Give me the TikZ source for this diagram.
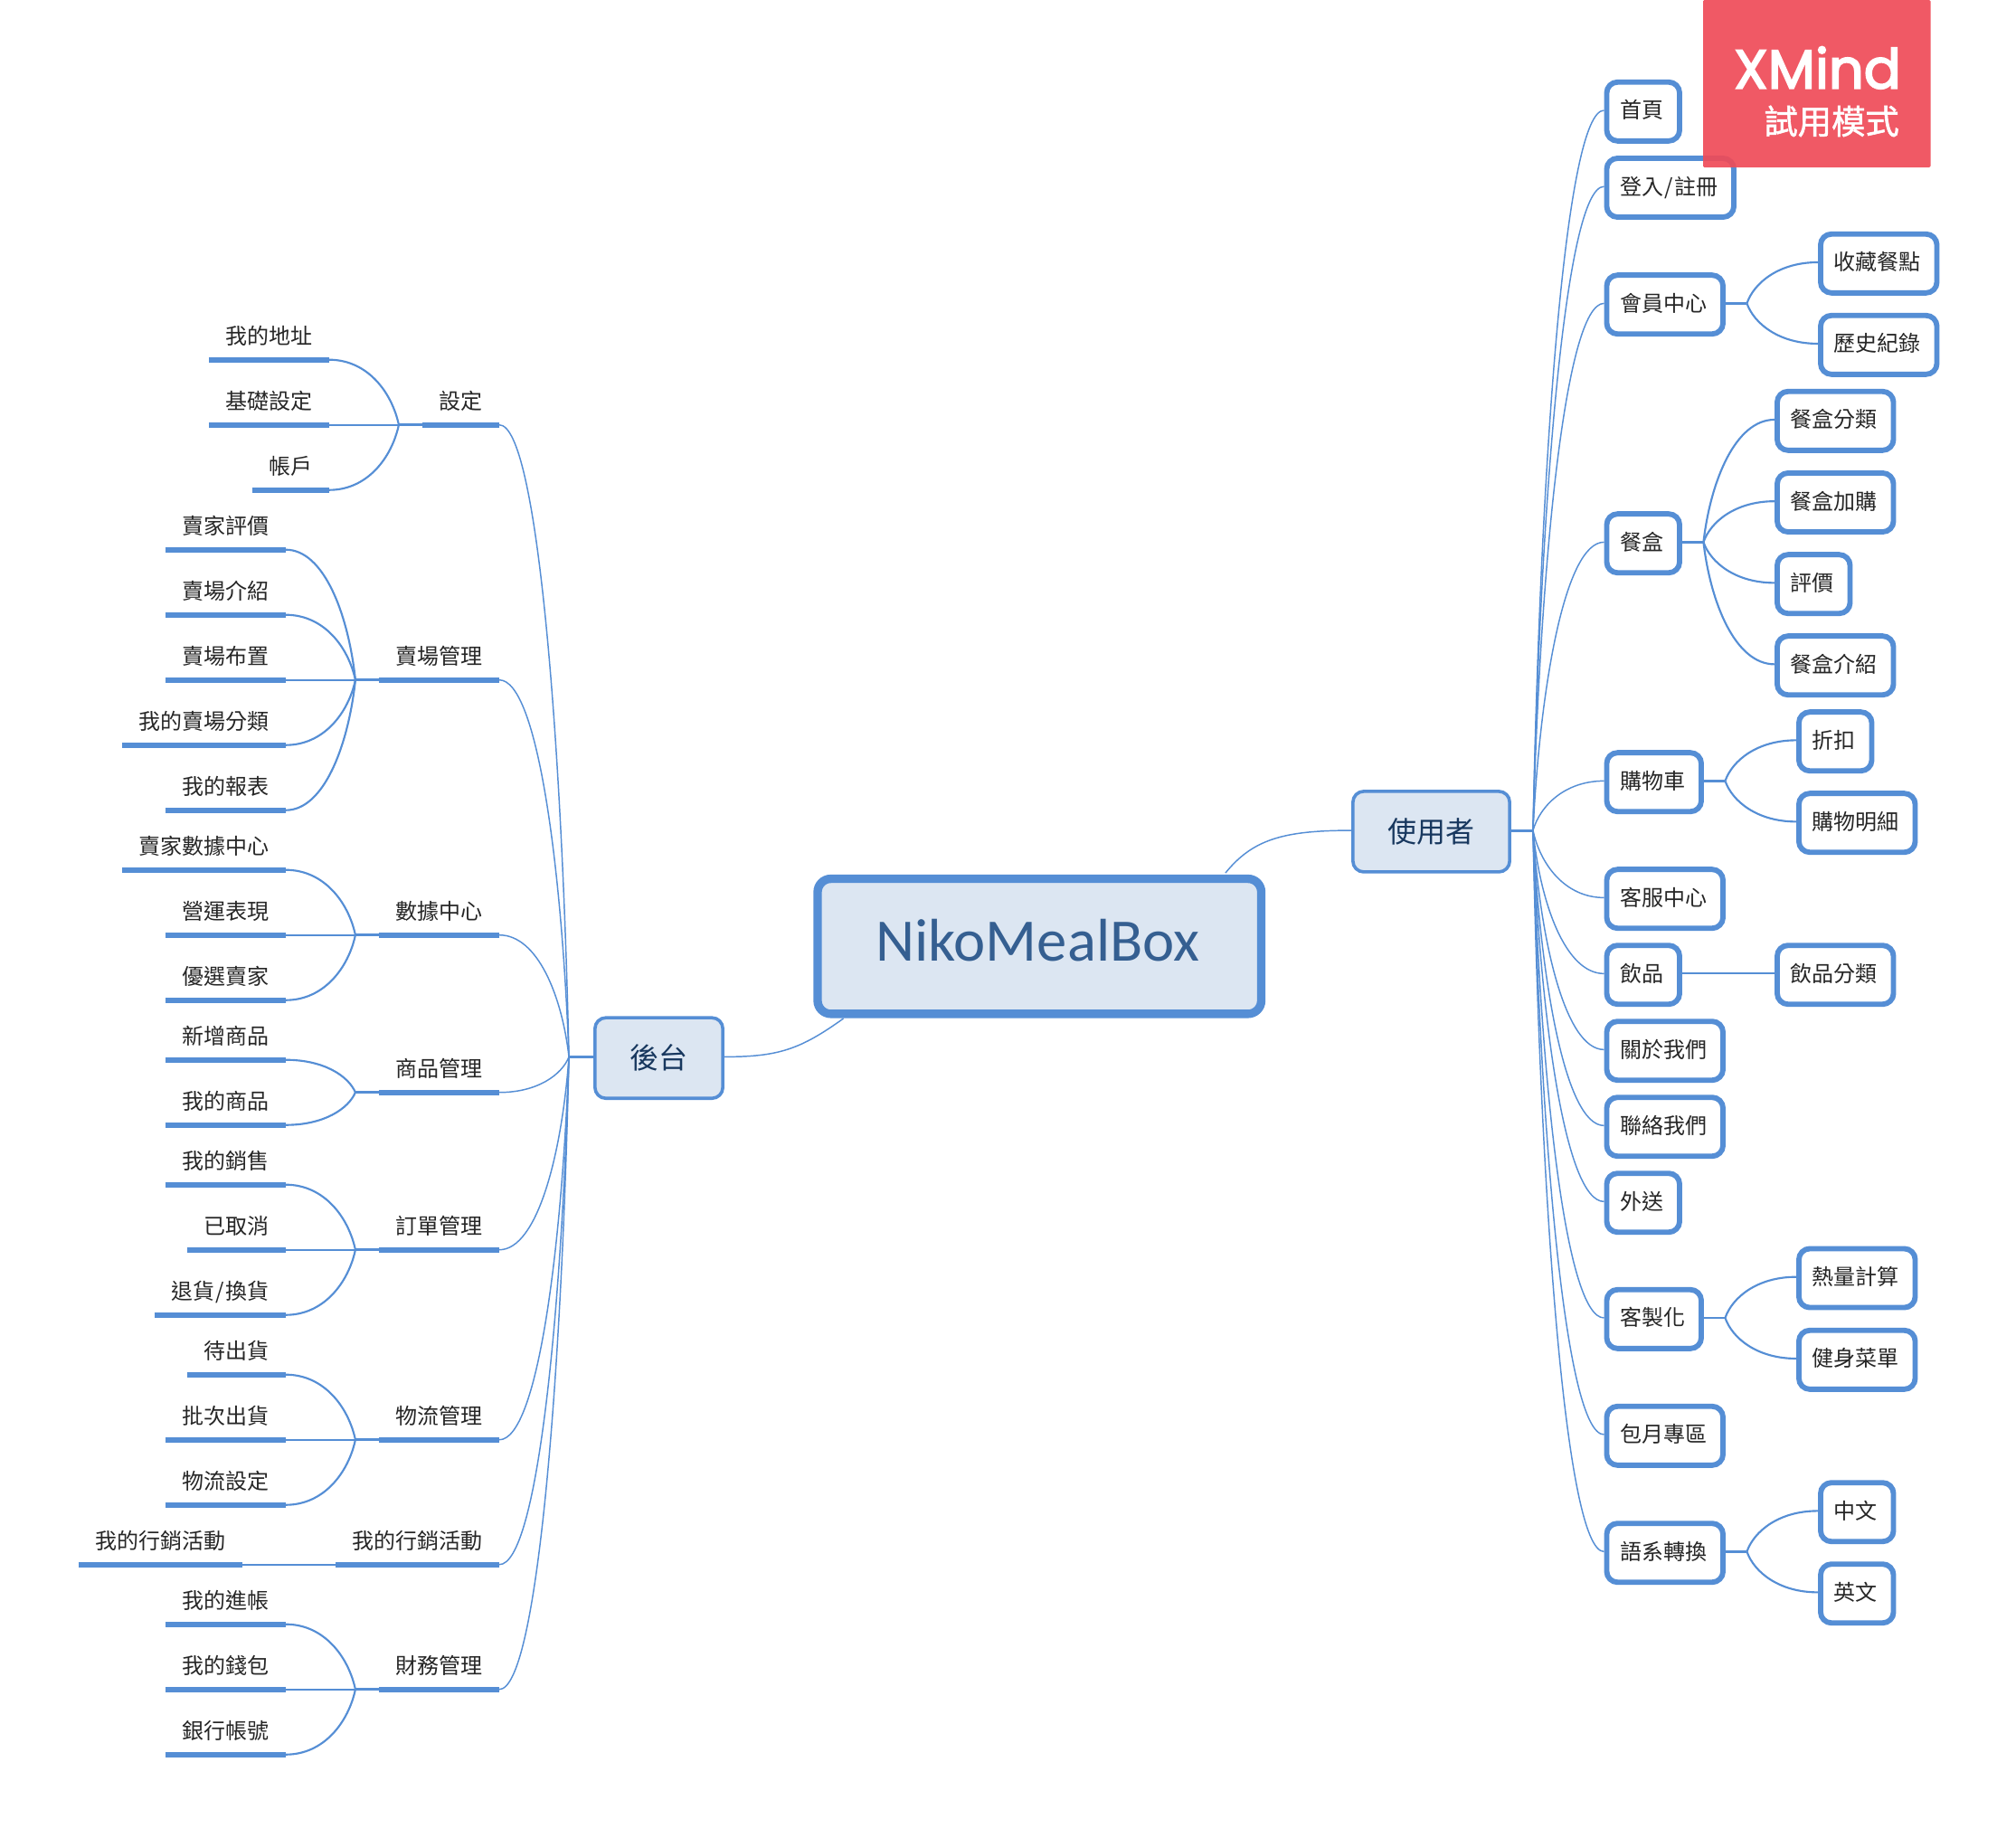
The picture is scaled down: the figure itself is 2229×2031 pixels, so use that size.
\documentclass[tikz,border=0pt]{standalone}
\usepackage{fontspec}
\setmainfont{Noto Sans CJK TC}
\newfontfamily\latf{Carlito}
\newfontfamily\xmf{Poppins}[FakeBold=3]
\newfontfamily\zhb{Noto Sans CJK TC}[FakeBold=1.5]
\usetikzlibrary{calc}
\definecolor{lineblue}{HTML}{558ED5}
\definecolor{fillblue}{HTML}{DCE6F2}
\definecolor{textdark}{HTML}{17375E}
\definecolor{textmain}{HTML}{355F91}
\definecolor{textleaf}{HTML}{262626}
\definecolor{xmred}{HTML}{EF4B58}
\tikzset{
  x=0.75pt,y=-0.75pt,
  topic/.style={draw=lineblue,line width=4.4pt,rounded corners=9pt,fill=white,text=textleaf,
    font=\fontsize{18}{22}\selectfont,inner sep=0pt,text height=15.8pt,text depth=2.2pt,
    minimum height=48.8pt,anchor=west},
  leaf/.style={text=textleaf,font=\fontsize{18}{22}\selectfont,inner xsep=13.9pt,inner ysep=0pt,outer sep=0pt,
    text height=15.8pt,text depth=2.2pt,minimum height=40.5pt,anchor=south east},
  ul/.style={draw=lineblue,line width=4.8pt},
  hubnode/.style={draw=lineblue,line width=2.7pt,rounded corners=9pt,fill=fillblue,text=textdark,
    font=\fontsize{24}{28}\selectfont,inner sep=0pt},
  mainnode/.style={draw=lineblue,line width=7pt,rounded corners=11pt,fill=fillblue,text=textmain,
    font=\latf\fontsize{50}{56}\selectfont,inner sep=0pt,text height=33.7pt,text depth=10pt},
  hubline/.style={draw=lineblue,line width=1.1pt},
  kidline/.style={draw=lineblue,line width=1.6pt},
  stub/.style={draw=lineblue,line width=2.2pt},
}
\newcommand\boxn[5]{\node[topic,minimum width={(#5-5.9)*0.75pt}] (#1) at (#3,#4) {\raisebox{1.1pt}{#2\kern2pt}};}
\newcommand\leafn[4]{\node[leaf] (#1) at (#3,#4) {\raisebox{-0.7pt}{#2}};\draw[ul] (#1.south west) -- (#1.south east);}
\newcommand\conn[3][hubline]{\draw[#1] let \p1=(#2),\p2=(#3) in (\p1) .. controls ({\x1+0.1*(\x2-\x1)},{\y1+0.5*(\y2-\y1)}) and ({\x1+0.45*(\x2-\x1)},\y2) .. (\p2);}
\newcommand\jct[2]{\coordinate (#1) at ([xshift=17.6pt,yshift=1pt]#2.east);\draw[stub] ([yshift=1pt]#2.east) -- (#1);}
\newcommand\kid[2]{\conn[kidline]{#1}{[yshift=1pt]#2.west}}
\newcommand\topk[1]{\conn[hubline]{jr}{[yshift=1pt]#1.west}}
\newcommand\lk[2]{\conn[kidline]{#1}{#2.south east}}
\newcommand\jl[3]{\coordinate (#1) at ($(#2.south west)+(#3,0)$);\draw[stub] (#2.south west) -- (#1);}
\newcommand\pk[1]{\conn[hubline]{jb}{#1.south east}}
\begin{document}
\begin{tikzpicture}
\path[use as bounding box,fill=white] (0,0) rectangle (2229,2031);
% centre
\node[mainnode,minimum width=367.9pt,minimum height=112pt] (main) at (1149.25,1046.2) {NikoMealBox\kern3pt};
\node[hubnode,minimum width=130pt,minimum height=66.8pt] (user) at (1582.5,919.4) {使用者};
\node[hubnode,minimum width=106pt,minimum height=66.8pt] (back) at (728.5,1169.7) {後台};
\coordinate (mt) at (1355,965);
\coordinate (mb) at (932.5,1126);
\draw[hubline] ([yshift=1pt]user.west) .. controls +(-75,0) and (1385,928) .. (mt);
\draw[hubline] ([yshift=1pt]back.east) .. controls +(60,0) and (885,1160) .. (mb);
\coordinate (jr) at ([xshift=18pt,yshift=1pt]user.east);
\draw[stub] ([yshift=1pt]user.east) -- (jr);
\coordinate (jb) at ([xshift=-20.25pt,yshift=1pt]back.west);
\draw[stub] ([yshift=1pt]back.west) -- (jb);
% right side
\boxn{a1}{首頁}{1773.5}{123.3}{86.5}
\boxn{a2}{登入\kern1pt/\kern1pt註冊}{1773.5}{207.5}{146.5}
\boxn{a3}{會員中心}{1773.5}{336.7}{134.5}
\boxn{a3a}{收藏餐點}{2010}{291.3}{134.5}
\boxn{a3b}{歷史紀錄}{2010}{381.3}{134.5}
\boxn{a4}{餐盒}{1773.5}{600.7}{86.5}
\boxn{a4a}{餐盒分類}{1962}{465.3}{134.5}
\boxn{a4b}{餐盒加購}{1962}{555.5}{134.5}
\boxn{a4c}{評價}{1962}{645.7}{86.5}
\boxn{a4d}{餐盒介紹}{1962}{735.7}{134.5}
\boxn{a5}{購物車}{1773.5}{864.7}{110.5}
\boxn{a5a}{折扣}{1986}{819.7}{86.5}
\boxn{a5b}{購物明細}{1986}{909.7}{134.5}
\boxn{a6}{客服中心}{1773.5}{993.7}{134.5}
\boxn{a7}{飲品}{1773.5}{1077.7}{86.5}
\boxn{a7a}{飲品分類}{1962}{1077.7}{134.5}
\boxn{a8}{關於我們}{1773.5}{1161.7}{134.5}
\boxn{a9}{聯絡我們}{1773.5}{1245.7}{134.5}
\boxn{a10}{外送}{1773.5}{1329.7}{86.5}
\boxn{a11}{客製化}{1773.5}{1458.3}{110.5}
\boxn{a11a}{熱量計算}{1986}{1413}{134.5}
\boxn{a11b}{健身菜單}{1986}{1503.3}{134.5}
\boxn{a12}{包月專區}{1773.5}{1587.3}{134.5}
\boxn{a13}{語系轉換}{1773.5}{1716.7}{134.5}
\boxn{a13a}{中文}{2010}{1671.7}{86.5}
\boxn{a13b}{英文}{2010}{1761.7}{86.5}
\topk{a1}\topk{a2}\topk{a3}\topk{a4}\topk{a5}\topk{a6}\topk{a7}\topk{a8}\topk{a9}\topk{a10}\topk{a11}\topk{a12}\topk{a13}
\jct{j3}{a3}\kid{j3}{a3a}\kid{j3}{a3b}
\jct{j4}{a4}\kid{j4}{a4a}\kid{j4}{a4b}\kid{j4}{a4c}\kid{j4}{a4d}
\jct{j5}{a5}\kid{j5}{a5a}\kid{j5}{a5b}
\draw[kidline] ([yshift=1pt]a7.east) -- ([yshift=1pt]a7a.west);
\jct{j11}{a11}\kid{j11}{a11a}\kid{j11}{a11b}
\jct{j13}{a13}\kid{j13}{a13a}\kid{j13}{a13b}
% left side: parents
\leafn{p1}{設定}{552}{469.7}
\leafn{p2}{賣場管理}{552}{751.7}
\leafn{p3}{數據中心}{552}{1033.7}
\leafn{p4}{商品管理}{552}{1207.7}
\leafn{p5}{訂單管理}{552}{1381.7}
\leafn{p6}{物流管理}{552}{1591.7}
\leafn{p7}{我的行銷活動}{552}{1729.7}
\leafn{p8}{財務管理}{552}{1867.7}
\pk{p1}\pk{p2}\pk{p3}\pk{p4}\pk{p5}\pk{p6}\pk{p7}\pk{p8}
% left side: leaves
\leafn{c11}{我的地址}{364}{397.7}
\leafn{c12}{基礎設定}{364}{469.7}
\leafn{c13}{帳戶}{364}{541.7}
\jl{g1}{p1}{-26}\lk{g1}{c11}\lk{g1}{c12}\lk{g1}{c13}
\leafn{c21}{賣家評價}{316}{607.7}
\leafn{c22}{賣場介紹}{316}{679.7}
\leafn{c23}{賣場布置}{316}{751.7}
\leafn{c24}{我的賣場分類}{316}{823.7}
\leafn{c25}{我的報表}{316}{895.7}
\jl{g2}{p2}{-26}\lk{g2}{c21}\lk{g2}{c22}\lk{g2}{c23}\lk{g2}{c24}\lk{g2}{c25}
\leafn{c31}{賣家數據中心}{316}{961.7}
\leafn{c32}{營運表現}{316}{1033.7}
\leafn{c33}{優選賣家}{316}{1105.7}
\jl{g3}{p3}{-26}\lk{g3}{c31}\lk{g3}{c32}\lk{g3}{c33}
\leafn{c41}{新增商品}{316}{1171.7}
\leafn{c42}{我的商品}{316}{1243.7}
\jl{g4}{p4}{-26}\lk{g4}{c41}\lk{g4}{c42}
\leafn{c51}{我的銷售}{316}{1309.7}
\leafn{c52}{已取消}{316}{1381.7}
\leafn{c53}{退貨\kern1pt/\kern1pt換貨}{316}{1453.7}
\jl{g5}{p5}{-26}\lk{g5}{c51}\lk{g5}{c52}\lk{g5}{c53}
\leafn{c61}{待出貨}{316}{1519.7}
\leafn{c62}{批次出貨}{316}{1591.7}
\leafn{c63}{物流設定}{316}{1663.7}
\jl{g6}{p6}{-26}\lk{g6}{c61}\lk{g6}{c62}\lk{g6}{c63}
\leafn{c71}{我的行銷活動}{268}{1729.7}
\draw[kidline] (p7.south west) -- (c71.south east);
\leafn{c81}{我的進帳}{316}{1795.7}
\leafn{c82}{我的錢包}{316}{1867.7}
\leafn{c83}{銀行帳號}{316}{1939.7}
\jl{g8}{p8}{-26}\lk{g8}{c81}\lk{g8}{c82}\lk{g8}{c83}
% watermark
\fill[xmred,opacity=0.92,rounded corners=1pt] (1883,0) rectangle (2134.5,185);
\node[anchor=base east,text=white,font=\xmf\fontsize{45.5}{50}\selectfont,inner sep=0pt] (xm) at (2102,97.7) {XMind};
\node[anchor=east,text=white,font=\zhb\fontsize{28}{32}\selectfont,inner sep=0pt] (xt) at (2100,134) {試用模式};
\end{tikzpicture}
\end{document}
